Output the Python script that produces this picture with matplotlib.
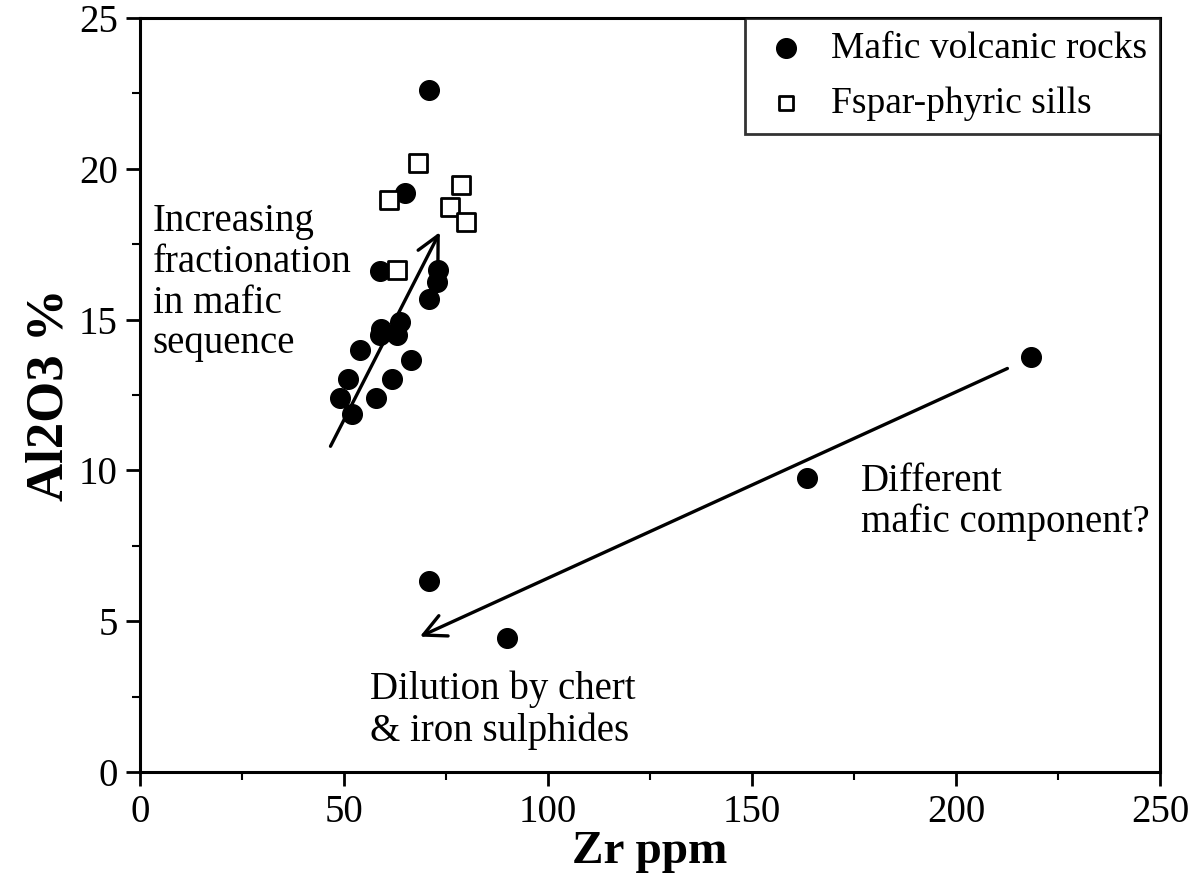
import matplotlib
matplotlib.use("Agg")
import matplotlib.pyplot as plt
from matplotlib.ticker import MultipleLocator

plt.rcParams['font.family'] = ['Liberation Serif', 'DejaVu Serif']

# Mafic volcanic rocks (Zr ppm, Al2O3 %)
mafic_zr = [70.8, 65.0, 58.8, 73.1, 72.7, 70.8, 63.7, 59.2, 62.9, 58.8, 53.9,
            66.4, 51.1, 61.7, 49.0, 57.8, 52.0, 70.9, 89.9, 163.4, 218.3]
mafic_al = [22.6, 19.2, 16.6, 16.66, 16.26, 15.67, 14.93, 14.7, 14.49, 14.49, 13.99,
            13.66, 13.02, 13.03, 12.39, 12.39, 11.87, 6.34, 4.43, 9.74, 13.75]

# Fspar-phyric sills
sill_zr = [68.2, 61.1, 78.8, 76.0, 79.9, 63.1]
sill_al = [20.18, 18.97, 19.46, 18.74, 18.24, 16.65]

# Trend arrows (tail -> head)
arrow1 = ((46.7, 10.8), (73.5, 17.9))
arrow2 = ((212.6, 13.38), (68.6, 4.49))

fig = plt.figure(figsize=(11.9, 8.83), dpi=100)
ax = fig.add_axes([0.1176, 0.1257, 0.9748 - 0.1176, 0.9796 - 0.1257])

ax.scatter(mafic_zr, mafic_al, s=200, marker='o', color='black', zorder=3,
           label='Mafic volcanic rocks')
ax.scatter(sill_zr, sill_al, s=150, marker='s', facecolor='white', edgecolor='black',
           linewidths=2.0, zorder=4, label='Fspar-phyric sills')

for (x0, y0), (x1, y1) in (arrow1, arrow2):
    ax.annotate('', xy=(x1, y1), xytext=(x0, y0),
                arrowprops=dict(arrowstyle='->', lw=2.4, color='black',
                                mutation_scale=40, shrinkA=0, shrinkB=0),
                zorder=2)

ax.text(3.1, 18.85, 'Increasing\nfractionation\nin mafic\nsequence', fontsize=28,
        va='top', ha='left', linespacing=1.13)
ax.text(176.7, 10.25, 'Different\nmafic component?', fontsize=28,
        va='top', ha='left', linespacing=1.13)
ax.text(56.5, 3.35, 'Dilution by chert\n& iron sulphides', fontsize=28,
        va='top', ha='left', linespacing=1.13)

ax.set_xlim(0, 250)
ax.set_ylim(0, 25)
ax.xaxis.set_major_locator(MultipleLocator(50))
ax.xaxis.set_minor_locator(MultipleLocator(25))
ax.yaxis.set_major_locator(MultipleLocator(5))
ax.yaxis.set_minor_locator(MultipleLocator(2.5))
ax.tick_params(which='major', direction='out', length=10, width=2, labelsize=28, pad=6)
ax.tick_params(which='minor', direction='out', length=6, width=1.5)
for sp in ax.spines.values():
    sp.set_linewidth(2.2)

ax.set_xlabel('Zr ppm', fontsize=34, fontweight='bold', labelpad=0)
ax.set_ylabel('Al2O3 %', fontsize=38, fontweight='bold', labelpad=4)

leg = ax.legend(loc='upper right', fontsize=27, frameon=True, fancybox=False,
                borderaxespad=0, handletextpad=0.45, borderpad=0.35,
                labelspacing=0.55, handlelength=1.5, markerscale=1.0)
leg.get_frame().set_edgecolor('black')
leg.get_frame().set_linewidth(2.0)
leg.legend_handles[1].set_sizes([90])

fig.savefig('out.png', dpi=100)
